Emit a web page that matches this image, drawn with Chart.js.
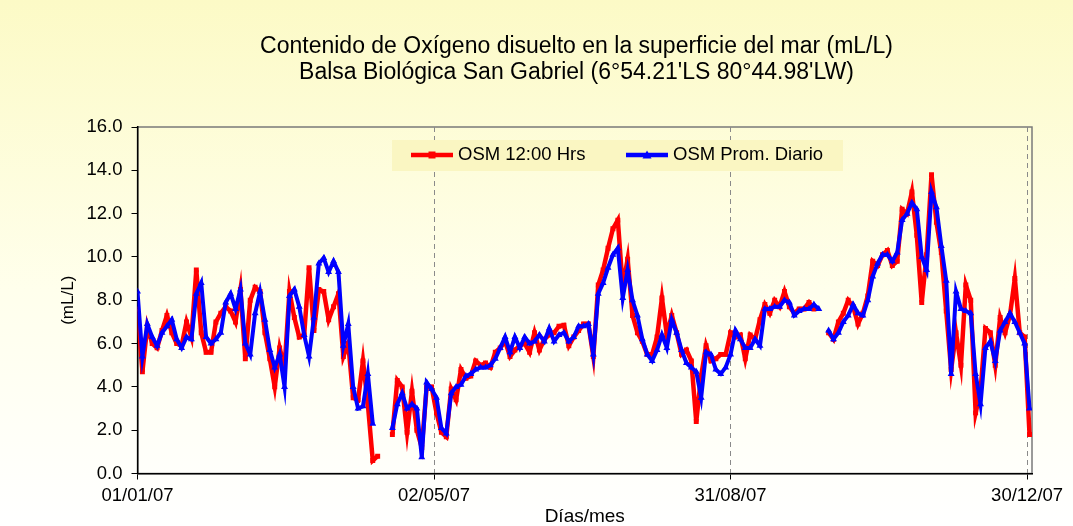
<!DOCTYPE html>
<html>
<head>
<meta charset="utf-8">
<script src="https://cdn.jsdelivr.net/npm/chart.js@4"></script>
<style>
  html, body { margin: 0; padding: 0; background: #fff; }
  canvas { display: block; }
</style>
</head>
<body>
<canvas id="grafico" width="1073" height="526"></canvas>
<script>
(function() {

  "use strict";

  // un valor cada 2 dias, desde el 01/01/07 (dia 0)
  var paso = 2;

  var osm12 = [
    7.6,4.7,6.8,6.0,5.8,6.6,7.3,6.5,6.0,5.9,
    7.0,6.3,9.4,6.5,5.6,5.6,7.0,7.4,7.7,7.5,
    7.0,8.5,5.3,8.0,8.6,8.4,6.5,5.3,4.0,5.8,
    4.9,8.4,7.2,6.3,6.4,9.5,6.6,8.5,8.4,7.1,
    7.7,8.3,5.4,6.0,3.5,3.4,5.2,3.2,0.6,0.8,
    null,null,1.8,4.3,4.0,1.9,3.8,2.0,1.2,4.0,
    4.0,2.8,1.9,1.7,3.9,3.4,4.8,4.4,4.5,5.2,
    5.0,5.1,4.9,5.6,5.8,6.1,5.4,5.7,5.9,6.0,
    5.6,6.5,5.7,6.2,6.4,6.5,6.8,6.85,5.9,6.3,
    6.6,6.9,6.9,5.4,8.7,9.4,10.4,11.3,11.7,8.6,
    9.9,7.3,6.5,6.1,5.5,5.5,6.3,8.1,6.4,7.3,
    6.5,5.5,5.7,5.2,2.4,4.5,5.9,5.2,5.3,5.5,
    5.5,6.5,6.3,6.4,5.3,6.4,6.2,7.1,7.8,7.4,
    8.0,7.7,8.4,7.7,7.4,7.6,7.6,7.9,7.6,null,
    null,6.5,6.2,7.0,7.4,8.0,7.7,6.9,7.4,8.2,
    9.8,9.6,10.1,10.3,9.6,9.8,12.2,12.0,13.0,11.0,
    7.9,10.1,13.8,11.6,10.2,7.5,4.8,6.5,5.0,8.7,
    8.0,2.8,3.8,6.7,6.5,5.0,7.2,6.5,7.3,9.0,
    6.5,6.3,1.8
  ];

  var osmProm = [
    8.4,5.4,6.9,6.3,5.9,6.5,6.8,7.1,6.2,5.8,
    6.3,6.2,8.3,8.8,6.3,6.0,6.2,6.5,7.9,8.3,
    7.6,8.5,6.0,5.5,7.4,8.4,7.1,5.7,4.9,5.5,
    4.0,8.2,8.5,7.7,6.4,5.4,7.2,9.7,9.95,9.3,
    9.8,9.3,5.9,6.9,4.0,3.0,3.1,4.6,2.3,null,
    null,null,2.1,3.2,3.7,3.0,3.2,3.0,0.75,4.2,
    3.9,3.5,2.1,1.85,3.7,4.0,4.1,4.5,4.6,4.8,
    4.9,4.9,5.0,5.3,5.8,6.3,5.6,6.3,5.8,6.3,
    6.0,6.1,6.4,6.1,6.7,6.1,6.4,6.5,6.1,6.3,
    6.8,6.8,6.9,5.5,8.3,8.8,9.5,10.1,10.4,8.1,
    9.4,8.0,7.3,6.2,5.5,5.2,5.7,6.4,5.8,7.1,
    6.5,5.7,5.1,4.9,4.7,3.5,5.6,5.5,4.8,4.6,
    4.9,5.5,6.6,6.2,5.8,5.8,6.2,5.9,7.6,7.6,
    7.7,7.7,8.0,7.9,7.3,7.5,7.6,7.6,7.8,7.6,
    null,6.6,6.2,6.5,7.0,7.3,7.8,7.4,7.3,8.0,
    9.1,9.7,10.1,10.1,9.8,10.2,11.7,12.0,12.5,12.2,
    10.0,9.4,13.0,12.3,10.5,8.9,4.6,8.4,7.6,7.5,
    7.4,4.6,3.2,5.8,6.1,5.2,6.6,7.0,7.4,7.0,
    6.5,6.0,3.0
  ];

  var dias = osm12.map(function(v, i) { return i * paso; });

  var tickDias = [0, 121, 242, 363];
  var tickEtiquetas = ["01/01/07", "02/05/07", "31/08/07", "30/12/07"];

  var titulo = [
    "Contenido de Oxígeno disuelto en la superficie del mar (mL/L)",
    "Balsa Biológica San Gabriel (6°54.21'LS 80°44.98'LW)"
  ];

  var fuente = "'Liberation Sans', Arial, sans-serif";

  function puntos(valores) {
    return dias.map(function(d, i) { return { x: d, y: valores[i] }; });
  }

  var fondo = {
    id: 'fondo',
    beforeDraw: function(chart) {
      var ctx = chart.ctx, a = chart.chartArea;
      var g = ctx.createLinearGradient(0, 0, 0, chart.height);
      g.addColorStop(0, '#FCFAC6');
      g.addColorStop(0.55, '#FFFFEC');
      g.addColorStop(1, '#FFFFFF');
      ctx.save();
      ctx.fillStyle = g;
      ctx.fillRect(0, 0, chart.width, chart.height);
      ctx.strokeStyle = '#7a7a7a';
      ctx.lineWidth = 1.5;
      ctx.strokeRect(a.left, a.top, a.right - a.left, a.bottom - a.top);
      // titulo
      ctx.fillStyle = '#000';
      ctx.font = "23px " + fuente;
      ctx.textAlign = 'center';
      ctx.textBaseline = 'middle';
      ctx.fillText(titulo[0], 576.5, 47);
      ctx.fillText(titulo[1], 576.5, 73);
      ctx.restore();
    }
  };

  var leyenda = {
    id: 'leyenda',
    afterDraw: function(chart) {
      var ctx = chart.ctx;
      var items = [
        { color: '#FF0000', x1: 411, x2: 453, texto: 'OSM 12:00 Hrs', forma: 'rect' },
        { color: '#0000FF', x1: 626, x2: 668, texto: 'OSM Prom. Diario', forma: 'triangle' }
      ];
      var y = 155;
      ctx.save();
      ctx.fillStyle = '#FAF6C2';
      ctx.fillRect(392, 140, 451, 31);
      items.forEach(function(it) {
        ctx.strokeStyle = it.color;
        ctx.fillStyle = it.color;
        ctx.lineWidth = 4.5;
        ctx.beginPath();
        ctx.moveTo(it.x1, y);
        ctx.lineTo(it.x2, y);
        ctx.stroke();
        var mx = (it.x1 + it.x2) / 2;
        if (it.forma === 'rect') {
          ctx.fillRect(mx - 3.5, y - 3.5, 7, 7);
        } else {
          ctx.beginPath();
          ctx.moveTo(mx, y - 4.5);
          ctx.lineTo(mx + 4.5, y + 3.5);
          ctx.lineTo(mx - 4.5, y + 3.5);
          ctx.closePath();
          ctx.fill();
        }
        ctx.fillStyle = '#000';
        ctx.font = "18.5px " + fuente;
        ctx.textAlign = 'left';
        ctx.textBaseline = 'middle';
        ctx.fillText(it.texto, it.x2 + 5, y);
      });
      ctx.restore();
    }
  };

  var grafico = new Chart(document.getElementById("grafico"), {
    type: 'line',
    data: {
      datasets: [
        {
          label: "OSM 12:00 Hrs",
          data: puntos(osm12),
          borderColor: "#FF0000",
          backgroundColor: "#FF0000",
          borderWidth: 4.5,
          pointStyle: 'rect',
          pointRadius: 3.5,
          pointBorderWidth: 0,
          tension: 0,
          order: 1
        },
        {
          label: "OSM Prom. Diario",
          data: puntos(osmProm),
          borderColor: "#0000FF",
          backgroundColor: "#0000FF",
          borderWidth: 4,
          pointStyle: 'triangle',
          pointRadius: 4,
          pointBorderWidth: 0,
          tension: 0,
          order: 0
        }
      ]
    },
    options: {
      responsive: false,
      animation: false,
      layout: { padding: { left: 0, right: 41, top: 127, bottom: 0 } },
      plugins: {
        legend: { display: false },
        tooltip: { enabled: false },
        title: { display: false }
      },
      scales: {
        x: {
          type: 'linear',
          min: 0,
          max: 365,
          afterBuildTicks: function(s) {
            s.ticks = tickDias.map(function(v) { return { value: v }; });
          },
          afterFit: function(s) { s.height = 52.5; },
          ticks: {
            autoSkip: false,
            maxRotation: 0,
            padding: 5,
            color: '#000',
            font: { family: fuente, size: 18.5 },
            callback: function(v) { return tickEtiquetas[tickDias.indexOf(v)]; }
          },
          grid: {
            color: function(c) { return c.index === 0 ? 'rgba(0,0,0,0)' : '#8a8a8a'; },
            lineWidth: 1,
            tickLength: 6,
            tickColor: '#000'
          },
          border: { color: '#000', width: 1.5, dash: [5, 4] },
          title: {
            display: true,
            text: 'Días/mes',
            color: '#000',
            padding: 0,
            font: { family: fuente, size: 19, lineHeight: 1 }
          }
        },
        y: {
          min: 0,
          max: 16,
          afterFit: function(s) { s.width = 137.5; },
          ticks: {
            stepSize: 2,
            padding: 9,
            color: '#000',
            font: { family: fuente, size: 18.5 },
            callback: function(v) { return v.toFixed(1); }
          },
          grid: { drawOnChartArea: false, tickLength: 6, tickColor: '#000', color: '#000' },
          border: { color: '#000', width: 1.5 },
          title: {
            display: true,
            text: '(mL/L)',
            color: '#000',
            padding: { top: 58, bottom: 0 },
            font: { family: fuente, size: 17 }
          }
        }
      }
    },
    plugins: [fondo, leyenda]
  });

})();
</script>
</body>
</html>
